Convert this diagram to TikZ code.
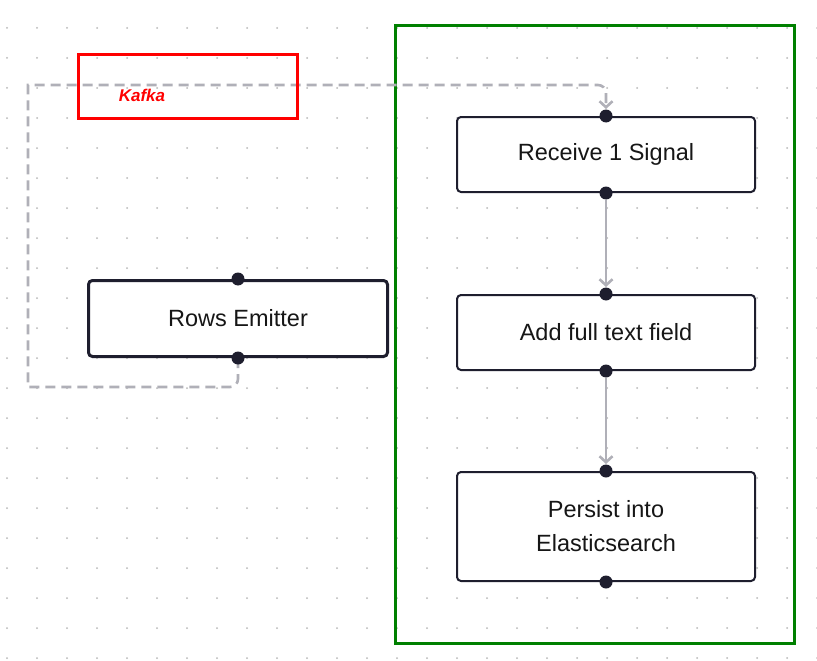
\documentclass[tikz,border=0pt]{standalone}
\usepackage{fontspec}
\setmainfont{Liberation Sans}
\usetikzlibrary{arrows.meta}
\definecolor{ink}{HTML}{1E1E2E}
\definecolor{txt}{HTML}{161616}
\definecolor{gridc}{HTML}{B8B8B8}
\definecolor{conn}{HTML}{B0B0B8}
\definecolor{grn}{HTML}{008000}
\definecolor{rd}{HTML}{FF0000}
\tikzset{
  flowbox/.style={draw=ink, line width=2pt, fill=white, rounded corners=4pt,
    minimum width=298pt, inner sep=0pt, text=txt,
    font=\fontsize{23.5}{34}\selectfont, align=center},
  portdot/.style={fill=ink},
  conline/.style={draw=conn, line width=2.6pt, -{Straight Barb[length=6pt,width=13pt]}},
  dashline/.style={conline, dash pattern=on 10pt off 6pt},
}
\begin{document}
\begin{tikzpicture}[x=1pt,y=-1pt]
\useasboundingbox[fill=white] (0,0) rectangle (817,661);
% dot grid
\foreach \i in {0,...,27}{
  \foreach \j in {0,...,21}{
    \fill[gridc] (7+30*\i,28+30*\j) circle (1pt);
  }
}
% green group frame
\draw[grn, line width=3pt] (395,26) rectangle (794,643);
% nodes
\node[flowbox, minimum height=75pt] (rs) at (606,154.5) {\raisebox{-2pt}{Receive 1 Signal}};
\node[flowbox, minimum height=75pt] (af) at (606,332.5) {\raisebox{-2pt}{Add full text field}};
\node[flowbox, minimum height=109pt] (pe) at (606,526.5) {Persist into\\Elasticsearch};
\node[flowbox, line width=3pt, minimum width=299pt, minimum height=76pt] (re) at (238,318.5) {\raisebox{-1pt}{Rows Emitter}};
% kafka dashed connection
\draw[dashline, shorten >=7pt] (re.south) [rounded corners=8pt] -- (238,387) [sharp corners] -- (28,387) -- (28,85) [rounded corners=8pt] -- (606,85) [sharp corners] -- (rs.north);
% red Kafka frame
\draw[rd, line width=3pt] (78,55) rectangle (297,118);
\node[text=rd, font=\fontsize{17}{18}\selectfont\bfseries\itshape, inner sep=0pt] (kafka) at (142,95) {Kafka};
% solid connections
\draw[conline, shorten <=7pt, shorten >=7pt] (rs.south) -- (af.north);
\draw[conline, shorten <=7pt, shorten >=7pt] (af.south) -- (pe.north);
% ports
\foreach \n in {rs,af,pe,re}{
  \fill[portdot] (\n.north) circle (6.5pt);
  \fill[portdot] (\n.south) circle (6.5pt);
}
\end{tikzpicture}
\end{document}
